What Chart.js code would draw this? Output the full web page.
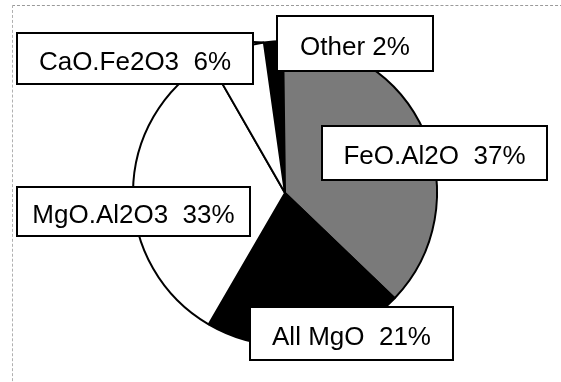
<!DOCTYPE html>
<html>
<head>
<meta charset="utf-8">
<script src="https://cdn.jsdelivr.net/npm/chart.js@4/dist/chart.umd.min.js"></script>
<style>
  html, body { margin: 0; padding: 0; background: #fff; }
  #wrap { position: relative; width: 561px; height: 382px; }
  #frame { position: absolute; left: 12px; top: 5px; width: 560px; height: 400px;
           border-top: 1px dashed #9a9a9a; border-left: 1px dashed #b0b0b0; pointer-events: none; }
  canvas { position: absolute; left: 0; top: 0; }
</style>
</head>
<body>
<div id="wrap">
  <canvas id="c" width="561" height="382"></canvas>
  <div id="frame"></div>
</div>
<script>
// ---- data ----
const categories = ["Other", "FeO.Al2O", "All MgO", "MgO.Al2O3", "CaO.Fe2O3"];
const values = [2, 37, 21, 33, 6];
const labelSeparators = [" ", "  ", "  ", "  ", "  "];
const sliceColors = ["#000000", "#7a7a7a", "#000000", "#ffffff", "#ffffff"];

// ---- label box layout (canvas px): left, top, right, bottom ----
const labelBoxes = [
  [277, 16, 433, 71],
  [322, 126, 547, 180],
  [250, 307, 453, 360],
  [17, 187, 250, 236],
  [17, 33, 253, 84]
];

const labelPlugin = {
  id: 'boxLabels',
  afterDatasetsDraw(chart) {
    const ctx = chart.ctx;
    const meta = chart.getDatasetMeta(0);
    ctx.save();
    const arc = meta.data[4];
    const a = arc.endAngle;
    const ex = arc.x + Math.cos(a) * arc.outerRadius;
    const ey = arc.y + Math.sin(a) * arc.outerRadius;
    ctx.strokeStyle = '#000';
    ctx.lineWidth = 2;
    ctx.beginPath();
    ctx.moveTo(labelBoxes[4][2], 42);
    ctx.lineTo(ex, ey);
    ctx.stroke();

    ctx.font = '26px "Liberation Sans", Arial, sans-serif';
    ctx.textAlign = 'center';
    ctx.textBaseline = 'alphabetic';
    categories.forEach((cat, i) => {
      const [l, t, r, b] = labelBoxes[i];
      ctx.fillStyle = '#fff';
      ctx.fillRect(l, t, r - l, b - t);
      ctx.strokeStyle = '#000';
      ctx.lineWidth = 2;
      ctx.strokeRect(l, t, r - l, b - t);
      ctx.fillStyle = '#000';
      ctx.fillText(cat + labelSeparators[i] + values[i] + '%', (l + r) / 2, (t + b) / 2 + 11);
    });
    ctx.restore();
  }
};

new Chart(document.getElementById('c'), {
  type: 'pie',
  data: {
    labels: categories,
    datasets: [{
      data: values,
      backgroundColor: sliceColors,
      borderColor: '#000',
      borderWidth: 2,
      hoverOffset: 0
    }]
  },
  options: {
    responsive: false,
    animation: false,
    rotation: -8,
    radius: 152,
    layout: { padding: { left: 9, right: 0, top: 4, bottom: 0 } },
    plugins: { legend: { display: false }, tooltip: { enabled: false } },
    events: []
  },
  plugins: [labelPlugin]
});
</script>
</body>
</html>
